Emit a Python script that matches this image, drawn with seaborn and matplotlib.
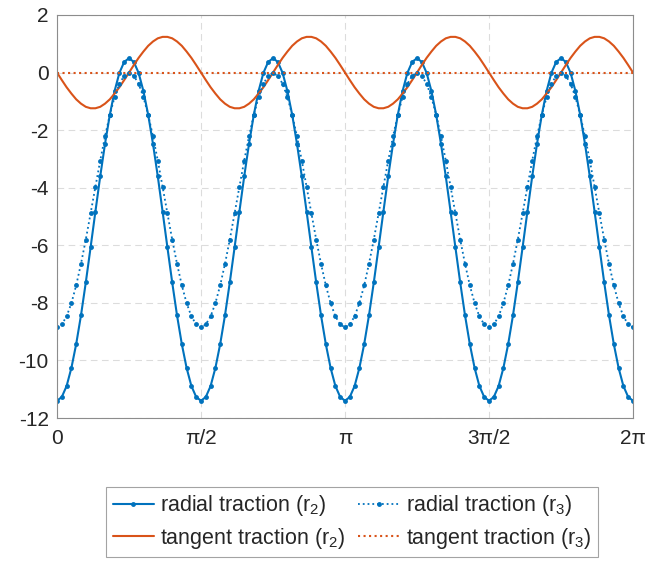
import numpy as np
import pandas as pd
import matplotlib
matplotlib.use("Agg")
import matplotlib.pyplot as plt
import seaborn as sns

# one period (0 .. pi/2), 31 samples; the curves repeat 4 times
radial_r2_period = [-11.40, -11.27, -10.89, -10.26, -9.43, -8.43, -7.29, -6.07, -4.83,
                    -3.61, -2.48, -1.47, -0.64, -0.01, 0.37, 0.50, 0.37, -0.01, -0.64,
                    -1.47, -2.48, -3.61, -4.83, -6.07, -7.29, -8.43, -9.43, -10.26,
                    -10.89, -11.27, -11.40]
radial_r3_period = [-8.85, -8.75, -8.47, -8.01, -7.39, -6.64, -5.80, -4.89, -3.97,
                    -3.06, -2.22, -1.47, -0.85, -0.39, -0.11, -0.01, -0.11, -0.39,
                    -0.85, -1.47, -2.22, -3.06, -3.97, -4.89, -5.80, -6.64, -7.39,
                    -8.01, -8.47, -8.75, -8.85]
tangent_r2_period = [0.00, -0.26, -0.51, -0.73, -0.93, -1.08, -1.19, -1.24, -1.24,
                     -1.19, -1.08, -0.93, -0.73, -0.51, -0.26, 0.00, 0.26, 0.51, 0.73,
                     0.93, 1.08, 1.19, 1.24, 1.24, 1.19, 1.08, 0.93, 0.73, 0.51, 0.26,
                     0.00]
tangent_r3_period = [0.0] * 31
n_periods = 4

tick_values = [0, np.pi / 2, np.pi, 3 * np.pi / 2, 2 * np.pi]
tick_labels = ["0", "π/2", "π", "3π/2", "2π"]


def repeat_period(vals, n):
    out = list(vals)
    for _ in range(n - 1):
        out += list(vals[1:])
    return out


theta = np.linspace(0, 2 * np.pi, 30 * n_periods + 1)
df = pd.DataFrame({
    "theta": theta,
    "rad2": repeat_period(radial_r2_period, n_periods),
    "rad3": repeat_period(radial_r3_period, n_periods),
    "tan2": repeat_period(tangent_r2_period, n_periods),
    "tan3": repeat_period(tangent_r3_period, n_periods),
})

sns.set_style("white")
plt.rcParams["font.family"] = ["Liberation Sans", "DejaVu Sans"]
plt.rcParams["mathtext.fontset"] = "custom"
plt.rcParams["mathtext.rm"] = "Liberation Sans"
plt.rcParams["mathtext.it"] = "Liberation Sans"
plt.rcParams["axes.unicode_minus"] = False

blue = "#0072BD"
orange = "#D95319"

fig = plt.figure(figsize=(6.47, 5.70), dpi=100)
ax = fig.add_axes([57 / 647, 1 - 418 / 570, (633 - 57) / 647, (418 - 15) / 570])

sns.lineplot(data=df, x="theta", y="rad2", ax=ax, color=blue, lw=1.5, marker="o",
             markersize=3.5, markeredgewidth=0, label="radial traction (r$_2$)")
sns.lineplot(data=df, x="theta", y="tan2", ax=ax, color=orange, lw=1.5,
             label="tangent traction (r$_2$)")
sns.lineplot(data=df, x="theta", y="rad3", ax=ax, color=blue, lw=1.3, ls=":", marker="o",
             markersize=3.5, markeredgewidth=0, label="radial traction (r$_3$)")
sns.lineplot(data=df, x="theta", y="tan3", ax=ax, color=orange, lw=1.5, ls=":",
             label="tangent traction (r$_3$)")

ax.set_xlim(0, 2 * np.pi)
ax.set_ylim(-12, 2)
ax.set_xticks(tick_values)
ax.set_xticklabels(tick_labels)
ax.set_yticks(np.arange(-12, 3, 2))
ax.set_xlabel("")
ax.set_ylabel("")
ax.grid(True, ls=(0, (6, 4)), color="#dcdcdc", lw=0.8)
for s in ax.spines.values():
    s.set_color("#8c8c8c")
    s.set_linewidth(0.8)
ax.tick_params(direction="in", length=5, width=0.8, color="#8c8c8c",
               labelsize=15, labelcolor="#262626", pad=6)
ax.tick_params(axis="x", pad=8)

handles, labels = ax.get_legend_handles_labels()
ax.get_legend().remove()
leg = fig.legend(handles, labels, loc="center", bbox_to_anchor=(0.544, 0.084), ncol=2,
                 fontsize=15.5, frameon=True, fancybox=False, handlelength=1.9,
                 handletextpad=0.3, columnspacing=0.6, borderpad=0.3, labelspacing=0.35)
leg.get_frame().set_edgecolor("#8c8c8c")
leg.get_frame().set_linewidth(0.8)

fig.savefig("out.png", dpi=100)
